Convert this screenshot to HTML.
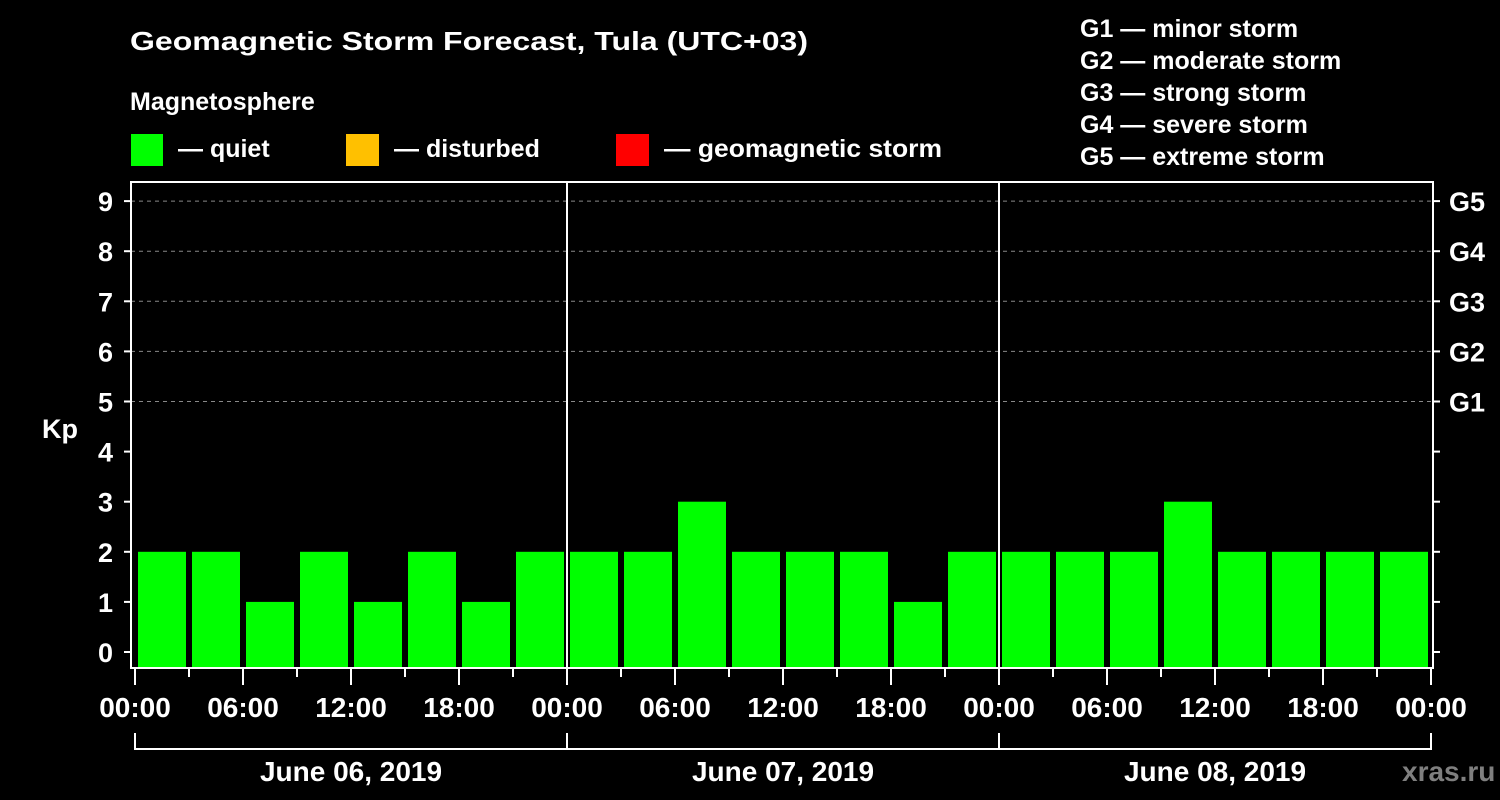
<!DOCTYPE html>
<html><head><meta charset="utf-8"><style>
html,body{margin:0;padding:0;background:#000;width:1500px;height:800px;overflow:hidden}
svg{display:block;font-family:"Liberation Sans",Arial,sans-serif;font-weight:bold}
</style></head><body>
<svg id="chart" width="1500" height="800" viewBox="0 0 1500 800">
<rect x="0" y="0" width="1500" height="800" fill="#000"/>
<text x="130" y="50" fill="#fff" font-size="26" textLength="678" lengthAdjust="spacingAndGlyphs">Geomagnetic Storm Forecast, Tula (UTC+03)</text>
<text x="130" y="110" fill="#fff" font-size="25">Magnetosphere</text>
<g>
<rect x="131" y="134" width="32" height="32" fill="#00ff00"/>
<text x="178" y="157" fill="#fff" font-size="25">— quiet</text>
<rect x="346" y="134" width="33" height="32" fill="#ffc000"/>
<text x="394" y="157" fill="#fff" font-size="25">— disturbed</text>
<rect x="616" y="134" width="33" height="32" fill="#ff0000"/>
<text x="664" y="157" fill="#fff" font-size="25" textLength="278" lengthAdjust="spacingAndGlyphs">— geomagnetic storm</text>
</g>
<g id="glegend" fill="#fff" font-size="25"></g>
<g id="grid"></g>
<g id="bars"></g>
<g id="axes"></g>
<text x="42" y="438" fill="#fff" font-size="27">Kp</text>
<text x="1402" y="781" fill="#7f7f7f" font-size="28">xras.ru</text>
</svg>
<script>
const kpValues = [2,2,1,2,1,2,1,2, 2,2,3,2,2,2,1,2, 2,2,2,3,2,2,2,2];
const dayLabels = ["June 06, 2019","June 07, 2019","June 08, 2019"];
const hourLabels = ["00:00","06:00","12:00","18:00"];
const yTicks = [0,1,2,3,4,5,6,7,8,9];
const gLabels = ["G1","G2","G3","G4","G5"];
const gDescriptions = ["minor storm","moderate storm","strong storm","severe storm","extreme storm"];

const NS = "http://www.w3.org/2000/svg";
const X0 = 135, PX_PER_SLOT = 54, AXL = 131, AXR = 1433, AXT = 182, AXB = 668;
function xs(slot){ return X0 + slot*PX_PER_SLOT; }
function ys(v){ return 652 - 50.1*v; }
function mk(tag, attrs, parent){
  const e = document.createElementNS(NS, tag);
  for (const k in attrs) e.setAttribute(k, attrs[k]);
  parent.appendChild(e); return e;
}
function color(v){ return v >= 5 ? "#ff0000" : (v >= 4 ? "#ffc000" : "#00ff00"); }

const gl = document.getElementById("glegend");
gLabels.forEach((g,i)=>{
  const t = mk("text",{x:1080,y:37+32*i},gl);
  
  
  t.textContent = g + " — " + gDescriptions[i];
});

const grid = document.getElementById("grid");
yTicks.forEach(v=>{
  if (v >= 5) {
    const l = mk("line",{x1:AXL,x2:AXR,y1:ys(v),y2:ys(v),stroke:"#888","stroke-width":1,"stroke-dasharray":"4,4"},grid);
    
    
  }
});

const bars = document.getElementById("bars");
kpValues.forEach((v,i)=>{
  const r = mk("rect",{x:xs(i)+3,y:ys(v),width:48,height:AXB-ys(v),fill:color(v)},bars);
  
  
});

const ax = document.getElementById("axes");
const frame = mk("rect",{x:AXL,y:AXT,width:AXR-AXL,height:AXB-AXT,fill:"none",stroke:"#fff","stroke-width":2},ax);


const nDays = dayLabels.length;
for (let d=1; d<nDays; d++){
  const l = mk("line",{x1:xs(d*8),x2:xs(d*8),y1:AXT,y2:AXB,stroke:"#fff","stroke-width":2},ax);
  
  
}
yTicks.forEach(v=>{
  const y = ys(v);
  mk("line",{x1:124,x2:AXL,y1:y,y2:y,stroke:"#fff","stroke-width":2},ax);
  mk("line",{x1:AXR,x2:AXR+7,y1:y,y2:y,stroke:"#fff","stroke-width":2},ax);
  const t = mk("text",{x:113,y:y+10,fill:"#fff","font-size":27,"text-anchor":"end"},ax);
  
  
  t.textContent = v;
  if (v >= 5){
    const g = mk("text",{x:1449,y:y+10,fill:"#fff","font-size":27},ax);
    
    
    g.textContent = gLabels[v-5];
  }
});
for (let s=0; s<=nDays*8; s++){
  const major = s%2===0;
  mk("line",{x1:xs(s),x2:xs(s),y1:AXB,y2:major?685:677,stroke:"#fff","stroke-width":2},ax);
  if (major){
    const t = mk("text",{x:xs(s),y:717,fill:"#fff","font-size":28,"text-anchor":"middle"},ax);
    
    
    t.textContent = hourLabels[(s/2)%4];
  }
}
mk("line",{x1:xs(0),x2:xs(nDays*8),y1:749,y2:749,stroke:"#fff","stroke-width":2},ax);
for (let d=0; d<=nDays; d++) mk("line",{x1:xs(d*8),x2:xs(d*8),y1:733,y2:750,stroke:"#fff","stroke-width":2},ax);
dayLabels.forEach((lab,d)=>{
  const t = mk("text",{x:(xs(d*8)+xs(d*8+8))/2,y:781,fill:"#fff","font-size":28,"text-anchor":"middle"},ax);
  
  
  t.textContent = lab;
});
</script>
</body></html>
